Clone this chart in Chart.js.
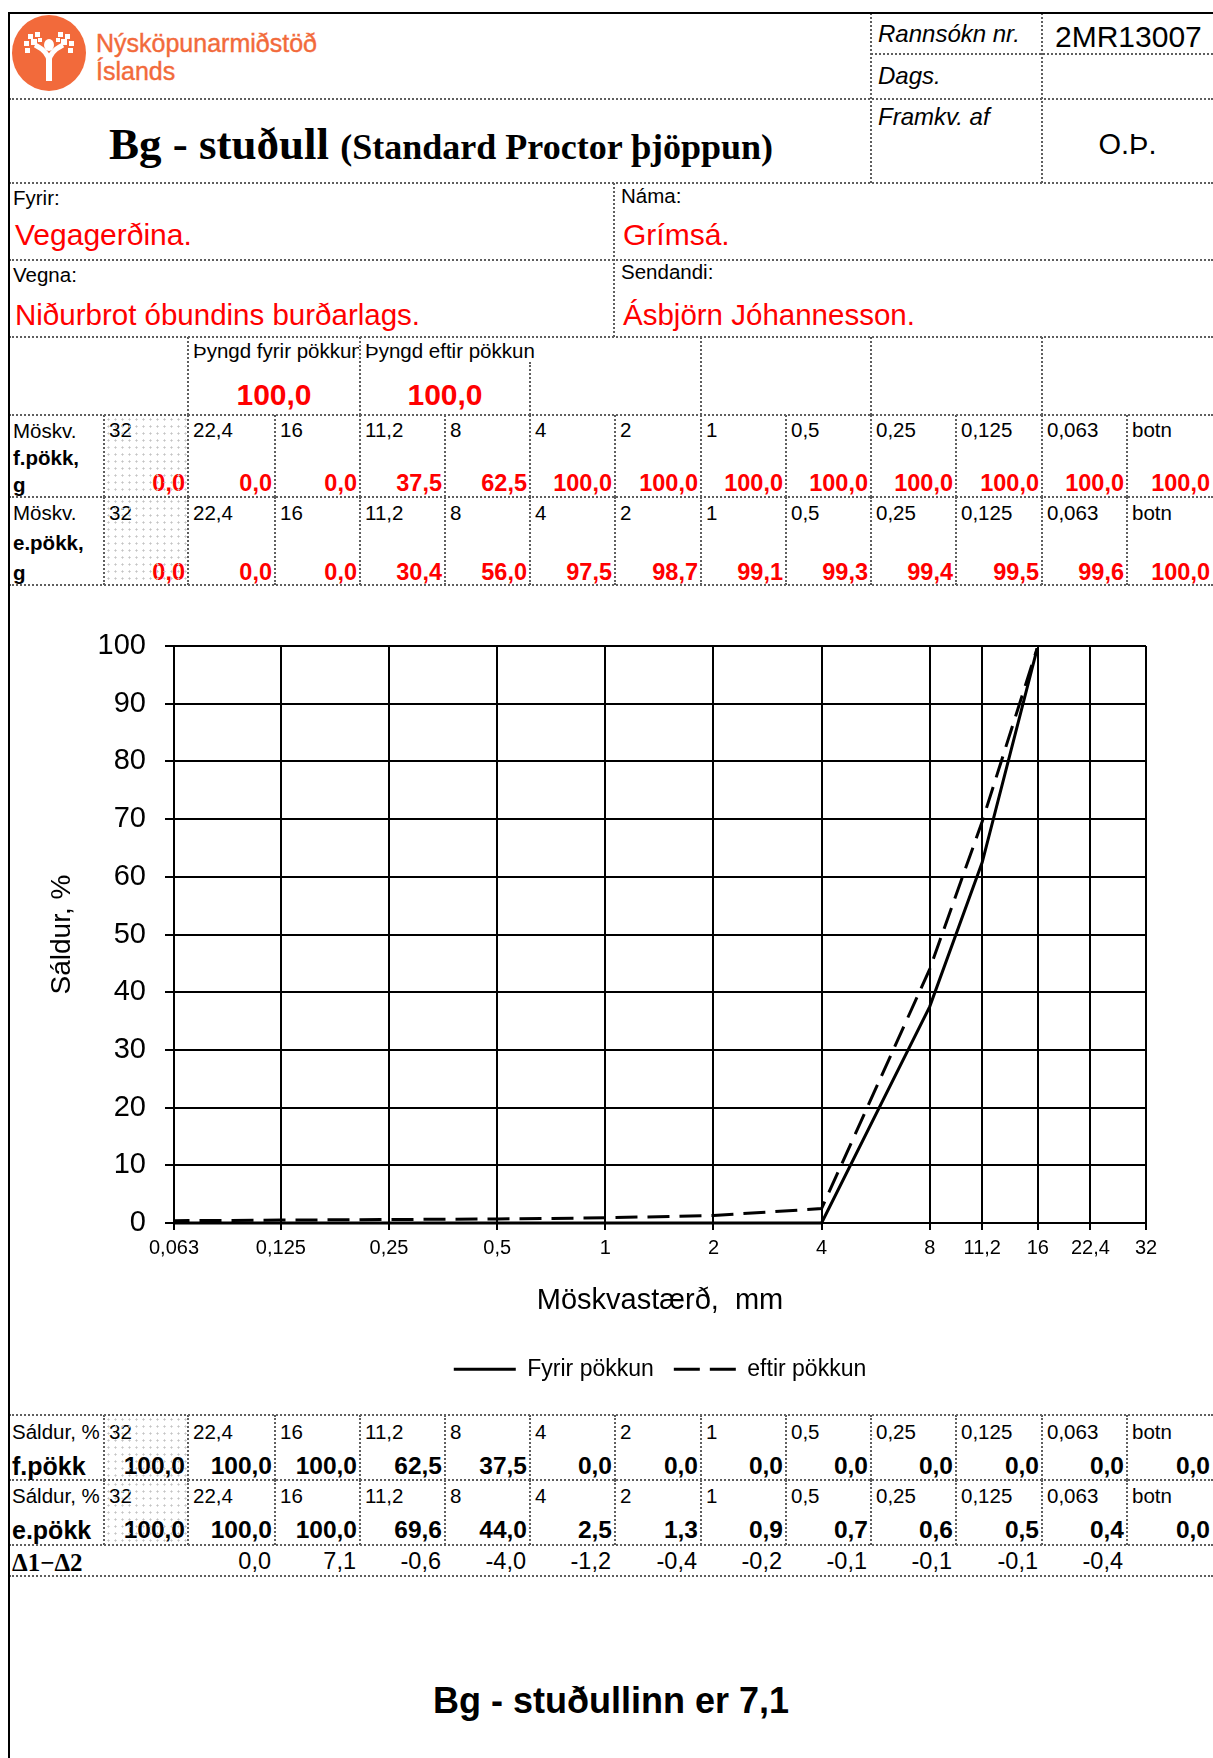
<!DOCTYPE html>
<html>
<head>
<meta charset="utf-8">
<script src="https://cdn.jsdelivr.net/npm/chart.js@4/dist/chart.umd.min.js"></script>
<style>
  html, body { margin: 0; padding: 0; background: #fff; overflow: hidden; }
  body { font-family: 'Liberation Sans', Arial, sans-serif; color: #000; }
  #page { position: relative; width: 1213px; height: 1758px; overflow: hidden; }
  .h { position: absolute; height: 0; border-top: 2px dotted #5e5e5e; }
  .v { position: absolute; width: 0; border-left: 2px dotted #5e5e5e; }
  .t { position: absolute; white-space: nowrap; line-height: 1; }
  .dots { position: absolute; background-image: radial-gradient(#c4c4c4 0.9px, transparent 1.2px); background-size: 7px 7px; }
  #chartBox { position: absolute; left: 9px; top: 586px; width: 1204px; height: 828px; }
</style>
</head>
<body>
<div id="page">
  <svg style="position:absolute;left:10px;top:14px" width="78" height="78" viewBox="0 0 78 78">
    <ellipse cx="39" cy="39" rx="37" ry="38" fill="#f26a3b"/>
    <g fill="#fff" stroke="#fff">
      <rect x="36" y="40" width="6" height="27" stroke="none"/>
      <path d="M39 48 Q39 38 25 31" fill="none" stroke-width="5"/>
      <path d="M39 48 Q39 38 53 31" fill="none" stroke-width="5"/>
      <ellipse cx="39" cy="31" rx="5" ry="6" stroke="none"/>
      <g stroke="none">
        <rect x="14" y="27" width="5" height="5"/><rect x="18" y="20" width="5" height="5"/><rect x="25" y="18" width="5" height="5"/>
        <rect x="15" y="34" width="5" height="5"/><rect x="21" y="25" width="6" height="6"/><rect x="28" y="24" width="4" height="4"/>
        <rect x="59" y="27" width="5" height="5"/><rect x="55" y="20" width="5" height="5"/><rect x="48" y="18" width="5" height="5"/>
        <rect x="58" y="34" width="5" height="5"/><rect x="51" y="25" width="6" height="6"/><rect x="46" y="24" width="4" height="4"/>
      </g>
    </g>
  </svg>
  <div id="chartBox"><canvas id="grading"></canvas></div>
</div>
<script>
// sieve sizes (mm) as printed in the tables
const sieveLabels = ['32', '22,4', '16', '11,2', '8', '4', '2', '1', '0,5', '0,25', '0,125', '0,063', 'botn'];
const sieveSizes = [32, 22.4, 16, 11.2, 8, 4, 2, 1, 0.5, 0.25, 0.125, 0.063];

// retained, grams (cumulative)
const gramsBefore = [0.0, 0.0, 0.0, 37.5, 62.5, 100.0, 100.0, 100.0, 100.0, 100.0, 100.0, 100.0, 100.0];
const gramsAfter = [0.0, 0.0, 0.0, 30.4, 56.0, 97.5, 98.7, 99.1, 99.3, 99.4, 99.5, 99.6, 100.0];

// passing, %
const passBefore = [100.0, 100.0, 100.0, 62.5, 37.5, 0.0, 0.0, 0.0, 0.0, 0.0, 0.0, 0.0, 0.0];
const passAfter = [100.0, 100.0, 100.0, 69.6, 44.0, 2.5, 1.3, 0.9, 0.7, 0.6, 0.5, 0.4, 0.0];

// difference, from 22,4 down to 0,063
const delta = [0.0, 7.1, -0.6, -4.0, -1.2, -0.4, -0.2, -0.1, -0.1, -0.1, -0.4];

const weightBefore = 100.0;
const weightAfter = 100.0;
const bgFactor = 7.1;

const xTicks = [0.063, 0.125, 0.25, 0.5, 1, 2, 4, 8, 11.2, 16, 22.4, 32];

const fmt = (v) => v.toFixed(1).replace('.', ',');

// ---------- form layout ----------
const page = document.getElementById('page');
const cols = [9, 104, 188, 275, 360, 445, 530, 615, 701, 786, 871, 956, 1042, 1127, 1213];

function el(cls, css, html) {
  const d = document.createElement('div');
  d.className = cls;
  d.style.cssText = css;
  if (html != null) d.innerHTML = html;
  page.insertBefore(d, page.firstChild);
  return d;
}
const hline = (x1, x2, y) => el('h', `left:${x1}px;top:${y - 1}px;width:${x2 - x1}px`);
const vline = (x, y1, y2) => el('v', `left:${x - 1}px;top:${y1}px;height:${y2 - y1}px`);
// yc = centre of capital letters
const text = (x, yc, size, str, extra = '') =>
  el('t', `left:${x}px;top:${yc - 0.49 * size}px;font-size:${size}px;${extra}`, str);
const textR = (xr, yc, size, str, extra = '') =>
  el('t', `right:${1213 - xr}px;top:${yc - 0.49 * size}px;font-size:${size}px;${extra}`, str);
const textC = (x1, x2, yc, size, str, extra = '') =>
  el('t', `left:${x1}px;width:${x2 - x1}px;text-align:center;top:${yc - 0.49 * size}px;font-size:${size}px;${extra}`, str);

const RED = 'color:#f00;';
const BOLD = 'font-weight:bold;';

// frame
el('', 'position:absolute;left:9px;top:12px;width:1204px;height:2px;background:#000');
el('', 'position:absolute;left:8px;top:12px;width:2px;height:1746px;background:#000');

// header
el('t', 'left:96px;top:31px;font-size:25px;color:#f26a3b;line-height:1;-webkit-text-stroke:0.4px #f26a3b', 'Nýsköpunarmiðstöð');
el('t', 'left:96px;top:59px;font-size:25px;color:#f26a3b;line-height:1;-webkit-text-stroke:0.4px #f26a3b', 'Íslands');
vline(871, 13, 183); vline(1042, 13, 183);
hline(871, 1213, 54); hline(9, 1213, 99); hline(9, 1213, 183);
text(878, 34, 24, 'Rannsókn nr.', 'font-style:italic;');
text(1055, 37, 30, '2MR13007');
text(878, 76, 24, 'Dags.', 'font-style:italic;');
text(878, 117, 24, 'Framkv. af', 'font-style:italic;');
textC(1042, 1213, 144, 29, 'O.Þ.');
el('t', "left:109px;top:122px;font-size:45px;font-family:'Liberation Serif','Times New Roman',serif;font-weight:bold",
  'Bg - stuðull <span style="font-size:36px">(Standard Proctor þjöppun)</span>');

// customer rows
vline(614, 183, 337); hline(9, 1213, 260); hline(9, 1213, 337);
text(13, 198, 20.5, 'Fyrir:'); text(621, 196, 20.5, 'Náma:');
text(15, 235, 30, 'Vegagerðina.', RED); text(623, 235, 30, 'Grímsá.', RED);
text(13, 275, 20.5, 'Vegna:'); text(621, 272, 20.5, 'Sendandi:');
text(15, 314, 29.5, 'Niðurbrot óbundins burðarlags.', RED); text(623, 314, 29.5, 'Ásbjörn Jóhannesson.', RED);

// weights
[188, 360, 701, 871, 1042].forEach(x => vline(x, 337, 415));
vline(530, 362, 415);
hline(9, 1213, 415);
el('t', 'left:193px;top:341px;width:166px;overflow:hidden;font-size:20.5px;', 'Þyngd fyrir pökkun');
text(365, 351, 20.5, 'Þyngd eftir pökkun');
textC(188, 360, 395, 30, fmt(weightBefore), RED + BOLD);
textC(360, 530, 395, 30, fmt(weightAfter), RED + BOLD);

// grams tables
function gramRow(y1, y2, tag, values, labelY, valueY, lh) {
  el('dots', `left:${cols[1] + 1}px;top:${y1 + 1}px;width:${cols[2] - cols[1] - 2}px;height:${y2 - y1 - 2}px`);
  el('t', `left:13px;top:${labelY - lh / 2}px;font-size:20.5px;line-height:${lh}px`,
    `Möskv.<br><b>${tag},</b><br><b>g</b>`);
  sieveLabels.forEach((s, i) => {
    vline(cols[i + 1], y1, y2);
    text(cols[i + 1] + 5, labelY, 20.5, s);
    textR(cols[i + 2] - 3, valueY, 23.5, fmt(values[i]), RED + BOLD);
  });
  hline(9, 1213, y2);
}
gramRow(415, 497, 'f.pökk', gramsBefore, 430, 484, 27);
gramRow(497, 585, 'e.pökk', gramsAfter, 513, 573, 30);

// passing tables
hline(9, 1213, 1415);
function passRow(y1, y2, tag, values, labelY, valueY) {
  el('dots', `left:${cols[1] + 1}px;top:${y1 + 1}px;width:${cols[2] - cols[1] - 2}px;height:${y2 - y1 - 2}px`);
  text(12, labelY, 20.5, 'Sáldur, %');
  text(12, valueY, 25, tag, BOLD);
  sieveLabels.forEach((s, i) => {
    vline(cols[i + 1], y1, y2);
    text(cols[i + 1] + 5, labelY, 20.5, s);
    textR(cols[i + 2] - 3, valueY, 24.5, fmt(values[i]), BOLD);
  });
  hline(9, 1213, y2);
}
passRow(1415, 1480, 'f.pökk', passBefore, 1432, 1466);
passRow(1480, 1545, 'e.pökk', passAfter, 1496, 1530);
text(12, 1562, 25, 'Δ1−Δ2', "font-family:'Liberation Serif',serif;" + BOLD);
delta.forEach((d, i) => textR(cols[i + 3] - 4, 1562, 23.5, fmt(d)));
hline(9, 1213, 1576);

textC(9, 1213, 1701, 36, 'Bg - stuðullinn er ' + fmt(bgFactor), BOLD);

// ---------- chart ----------
Chart.defaults.font.family = "'Liberation Sans', Arial, sans-serif";
Chart.defaults.color = '#000';

const points = (vals) => sieveSizes.map((s, i) => ({ x: s, y: vals[i] }));

const chart = new Chart(document.getElementById('grading'), {
  type: 'line',
  data: {
    datasets: [
      {
        label: 'Fyrir pökkun',
        data: points(passBefore),
        borderColor: '#000',
        backgroundColor: '#000',
        borderWidth: 3,
        pointRadius: 0,
        fill: false,
        tension: 0,
        clip: { left: 4, top: -2, right: 4, bottom: 4 }
      },
      {
        label: 'eftir pökkun',
        data: points(passAfter),
        borderColor: '#000',
        backgroundColor: '#000',
        borderWidth: 3,
        borderDash: [22, 10],
        pointRadius: 0,
        fill: false,
        tension: 0,
        clip: { left: 4, top: -2, right: 4, bottom: 4 }
      }
    ]
  },
  options: {
    responsive: true,
    maintainAspectRatio: false,
    animation: false,
    events: [],
    layout: { padding: { left: 58, top: 60, right: 67, bottom: 30 } },
    scales: {
      x: {
        type: 'logarithmic',
        min: 0.063,
        max: 32,
        afterBuildTicks: (axis) => { axis.ticks = xTicks.map(v => ({ value: v })); },
        ticks: {
          autoSkip: false,
          maxRotation: 0,
          minRotation: 0,
          padding: 6,
          font: { size: 20 },
          color: '#000',
          callback: (v) => String(v).replace('.', ',')
        },
        grid: { color: '#000', lineWidth: 2, tickLength: 7 },
        border: { color: '#000', width: 2 },
        title: {
          display: true,
          text: 'Möskvastærð,  mm',
          font: { size: 29 },
          color: '#000',
          padding: { top: 18, bottom: 19 }
        }
      },
      y: {
        min: 0,
        max: 100,
        ticks: { stepSize: 10, padding: 19, font: { size: 29 }, color: '#000' },
        grid: { color: '#000', lineWidth: 2, tickLength: 9 },
        border: { color: '#000', width: 2 },
        title: {
          display: true,
          text: 'Sáldur, %',
          font: { size: 28 },
          color: '#000',
          padding: { top: 4, bottom: 0 }
        }
      }
    },
    plugins: {
      legend: {
        position: 'bottom',
        fullSize: false,
        labels: {
          usePointStyle: true,
          pointStyle: 'line',
          pointStyleWidth: 62,
          font: { size: 23 },
          color: '#000',
          padding: 20,
          // point-style items lose the dataset dash, put it back (longer dashes so the sample ends on a dash)
          generateLabels: (c) => Chart.defaults.plugins.legend.labels.generateLabels(c).map((item, i) => ({
            ...item,
            lineWidth: 3,
            lineDash: c.data.datasets[i].borderDash ? [26, 10] : []
          }))
        }
      },
      tooltip: { enabled: false }
    }
  }
});

// pin the plot area to where it sits on the form
const want = { left: 165, top: 60, right: 1137, bottom: 637 };
for (let k = 0; k < 2; k++) {
  const a = chart.chartArea;
  const p = chart.options.layout.padding;
  chart.options.layout.padding = {
    left: p.left + want.left - a.left,
    top: p.top + want.top - a.top,
    right: p.right + a.right - want.right,
    bottom: p.bottom + a.bottom - want.bottom
  };
  chart.update('none');
}
</script>
</body>
</html>
